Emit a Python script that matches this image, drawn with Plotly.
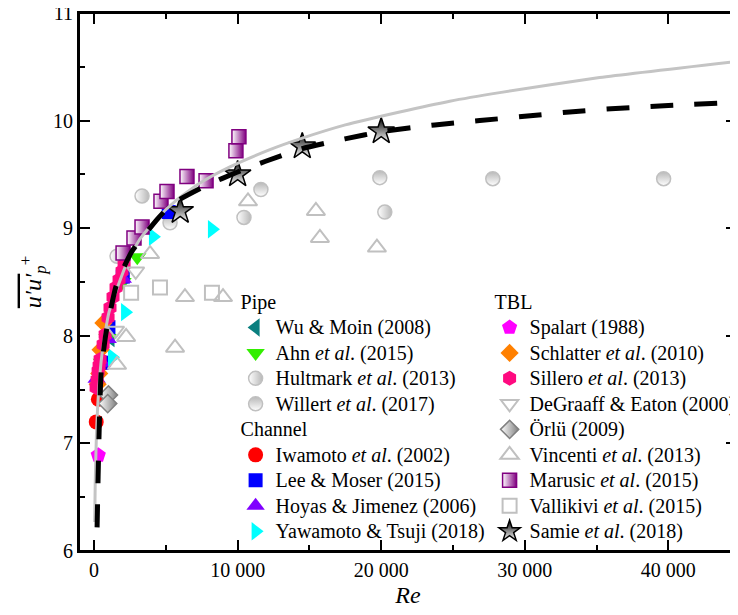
import plotly.graph_objects as go

# ---------------- data (Re, peak u'u'+) ----------------
wu_re = [1142]
wu_y = [7.98]
ahn_re = [544, 934, 1981, 3008]
ahn_y = [7.75, 7.98, 8.50, 8.73]
hult_re = [1600, 3340, 10440, 20250]
hult_y = [8.74, 9.30, 9.10, 9.15]
will_re = [5290, 11620, 19900, 27770, 39670]
will_y = [9.05, 9.36, 9.47, 9.46, 9.46]

iwa_re = [150, 300, 650]
iwa_y = [7.20, 7.41, 7.75]
lee_re = [550, 1000, 2000, 5200]
lee_y = [7.75, 8.08, 8.55, 9.15]
hoy_re = [180, 550, 950, 2000]
hoy_y = [7.60, 7.75, 7.97, 8.53]
yaw_re = [1250, 2160, 4100, 8210]
yaw_y = [7.80, 8.22, 8.92, 8.99]

spa_re = [290]
spa_y = [6.89]
sch_re = [250, 360, 450, 650]
sch_y = [7.55, 7.65, 7.87, 8.12]
sil_re = [140, 210, 280, 350, 420, 630, 770, 975, 1110, 1320, 1530, 1740, 1950, 2090]
sil_y = [7.52, 7.59, 7.67, 7.72, 7.78, 7.92, 8.01, 8.17, 8.26, 8.36, 8.45, 8.52, 8.60, 8.66]
deg_re = [1500, 2900]
deg_y = [8.05, 8.60]
orl_re = [1000, 950]
orl_y = [7.45, 7.37]
vin_re = [1600, 2230, 3900, 5640, 6330, 8980, 10720, 15450, 15730, 19700]
vin_y = [7.73, 7.99, 8.76, 7.89, 8.36, 8.36, 9.25, 9.16, 8.91, 8.82]
mar_re = [2020, 2780, 3340, 4660, 5080, 6470, 7800, 9880, 10090]
mar_y = [8.77, 8.91, 9.01, 9.25, 9.34, 9.48, 9.44, 9.72, 9.85]
val_re = [2580, 4590, 8210]
val_y = [8.40, 8.45, 8.40]
sam_re = [6000, 10000, 14500, 20000]
sam_y = [9.16, 9.50, 9.76, 9.90]

# correlation curves
gray_re = [45, 80, 160, 300, 550, 1040, 2230, 3200, 4380, 5640, 7380, 9460,
           12250, 14340, 17500, 21290, 24770, 28250, 35210, 44780]
gray_y = [6.27, 6.63, 7.06, 7.45, 7.83, 8.22, 8.66, 8.90, 9.09, 9.25, 9.42, 9.57,
          9.73, 9.83, 9.96, 10.08, 10.18, 10.26, 10.40, 10.55]
fit_re = [210, 280, 350, 490, 835, 1530, 2230, 2710, 4380, 5080, 6000, 7860, 9950,
          11900, 14500, 17470, 20110, 23730, 26860, 29990, 33120, 36000, 40000, 44780]
fit_y = [6.22, 6.69, 7.10, 7.66, 8.03, 8.46, 8.68, 8.80, 9.08, 9.18, 9.27, 9.40, 9.52,
         9.62, 9.74, 9.83, 9.90, 9.96, 10.00, 10.04, 10.08, 10.11, 10.14, 10.17]

x_ticks = [0, 10000, 20000, 30000, 40000]
x_ticktext = ["0", "10 000", "20 000", "30 000", "40 000"]

SERIF = "Liberation Serif"
GRAY = "#c0c0c0"
LEG_SIZE = 17.3          # sets legend row pitch
fig = go.Figure()


def big(t):
    return '<span style="font-size:20px">' + t + '</span>'


def add(name, x, y, symbol, color, size, legend, group, gtitle,
        lcolor=None, lwidth=0, grad=None):
    m = dict(symbol=symbol, color=color, size=size,
             line=dict(color=lcolor or color, width=lwidth))
    if grad:
        m["gradient"] = grad
    fig.add_trace(go.Scatter(
        x=x, y=y, mode="markers", name=big(name), marker=m, legend=legend,
        legendgroup=group,
        legendgrouptitle=dict(text=big(gtitle),
                              font=dict(size=LEG_SIZE, family=SERIF, color="black")),
        hoverinfo="skip"))


L1, L2 = "legend", "legend2"
add("Wu & Moin (2008)", wu_re, wu_y, "triangle-left", "#0a7f7f", 16, L1, "pipe", "Pipe")
add("Ahn <i>et al</i>. (2015)", ahn_re, ahn_y, "triangle-down", "#33ee00", 16, L1, "pipe", "Pipe")
add("Hultmark <i>et al</i>. (2013)", hult_re, hult_y, "circle", "white", 14, L1, "pipe", "Pipe",
    lcolor=GRAY, lwidth=1.5, grad=dict(type="horizontal", color="#b8b8b8"))
add("Willert <i>et al</i>. (2017)", will_re, will_y, "circle", "#b8b8b8", 14, L1, "pipe", "Pipe",
    lcolor=GRAY, lwidth=1.5, grad=dict(type="vertical", color="white"))
add("Iwamoto <i>et al</i>. (2002)", iwa_re, iwa_y, "circle", "#ff0000", 15, L1, "chan", "Channel")
add("Lee & Moser (2015)", lee_re, lee_y, "square", "#0000ff", 14, L1, "chan", "Channel")
add("Hoyas & Jimenez (2006)", hoy_re, hoy_y, "triangle-up", "#8000ff", 16, L1, "chan", "Channel")
add("Yawamoto & Tsuji (2018)", yaw_re, yaw_y, "triangle-right", "#00ffff", 16, L1, "chan", "Channel")

add("Spalart (1988)", spa_re, spa_y, "pentagon", "#ff00ff", 16, L2, "tbl", "TBL")
add("Schlatter <i>et al</i>. (2010)", sch_re, sch_y, "diamond", "#ff8000", 14, L2, "tbl", "TBL")
add("Sillero <i>et al</i>. (2013)", sil_re, sil_y, "hexagon", "#ff0a80", 15, L2, "tbl", "TBL")
add("DeGraaff & Eaton (2000)", deg_re, deg_y, "triangle-down-open", GRAY, 15, L2, "tbl", "TBL",
    lwidth=2)
add("Örlü (2009)", orl_re, orl_y, "diamond", "white", 14, L2, "tbl", "TBL",
    lcolor="#808080", lwidth=1.5, grad=dict(type="horizontal", color="#808080"))
add("Vincenti <i>et al</i>. (2013)", vin_re, vin_y, "triangle-up-open", GRAY, 16, L2, "tbl", "TBL",
    lwidth=2)
add("Marusic <i>et al</i>. (2015)", mar_re, mar_y, "square", "white", 14, L2, "tbl", "TBL",
    lcolor="#800080", lwidth=1.5, grad=dict(type="horizontal", color="#800080"))
add("Vallikivi <i>et al</i>. (2015)", val_re, val_y, "square-open", GRAY, 14, L2, "tbl", "TBL",
    lwidth=2)
add("Samie <i>et al</i>. (2018)", sam_re, sam_y, "star", "black", 20, L2, "tbl", "TBL",
    lcolor="black", lwidth=1.5, grad=dict(type="vertical", color="white"))

fig.add_trace(go.Scatter(x=gray_re, y=gray_y, mode="lines", showlegend=False,
                         line=dict(color="#c4c4c4", width=3, shape="spline", smoothing=0.5),
                         hoverinfo="skip"))
fig.add_trace(go.Scatter(x=fit_re, y=fit_y, mode="lines", showlegend=False,
                         line=dict(color="black", width=5, dash="23px,21px", shape="spline",
                                   smoothing=0.5),
                         hoverinfo="skip"))
# empty traces so the top / right frame axes (tick marks only) get drawn
fig.add_trace(go.Scatter(x=[], y=[], xaxis="x2", yaxis="y", showlegend=False))
fig.add_trace(go.Scatter(x=[], y=[], xaxis="x", yaxis="y2", showlegend=False))

X_RANGE = [-1050, 44780]
Y_RANGE = [6, 11]
tick_style = dict(showline=True, linewidth=2, linecolor="black",
                  ticks="inside", ticklen=11, tickwidth=2, tickcolor="black",
                  showgrid=False, zeroline=False, automargin=False)
x_minor = dict(dtick=5000, tick0=0, ticks="inside", ticklen=6, tickwidth=2, tickcolor="black")
y_minor = dict(dtick=0.5, tick0=6, ticks="inside", ticklen=6, tickwidth=2, tickcolor="black")
tfont = dict(size=20, family=SERIF, color="black")

fig.update_layout(
    xaxis=dict(range=X_RANGE, tickvals=x_ticks, ticktext=x_ticktext, tickfont=tfont,
               minor=x_minor,
               title=dict(text="<i>Re</i>", font=dict(size=24, family=SERIF), standoff=6),
               **tick_style),
    yaxis=dict(range=Y_RANGE, dtick=1, tick0=6, tickfont=tfont, minor=y_minor,
               ticklabeloverflow="allow",
               title=dict(text='<span style="text-decoration:overline"><i>u′u′</i></span>'
                               '<sub><i>p</i></sub><sup>+</sup>',
                          font=dict(size=24, family=SERIF), standoff=5),
               **tick_style),
    xaxis2=dict(range=X_RANGE, overlaying="x", side="top", anchor="y", tickvals=x_ticks,
                showticklabels=False, minor=x_minor, **tick_style),
    yaxis2=dict(range=Y_RANGE, overlaying="y", side="right", anchor="x", dtick=1, tick0=6,
                showticklabels=False, minor=y_minor, **tick_style),
    shapes=[dict(type="rect", xref="paper", yref="paper", x0=0, x1=1, y0=0, y1=1,
                 line=dict(color="black", width=2), layer="above")],
)

leg_common = dict(xanchor="left", yanchor="top", bgcolor="rgba(0,0,0,0)",
                  tracegroupgap=0, itemwidth=30,
                  font=dict(size=LEG_SIZE, family=SERIF, color="black"))
fig.update_layout(
    width=738, height=615, margin=dict(l=71, r=9, t=5, b=72, autoexpand=False),
    plot_bgcolor="white", paper_bgcolor="white",
    font=dict(family=SERIF, size=20, color="black"),
    legend=dict(x=0.238, y=0.496, **leg_common),
    legend2=dict(x=0.624, y=0.496, **leg_common),
)
fig.write_html("out.html")
